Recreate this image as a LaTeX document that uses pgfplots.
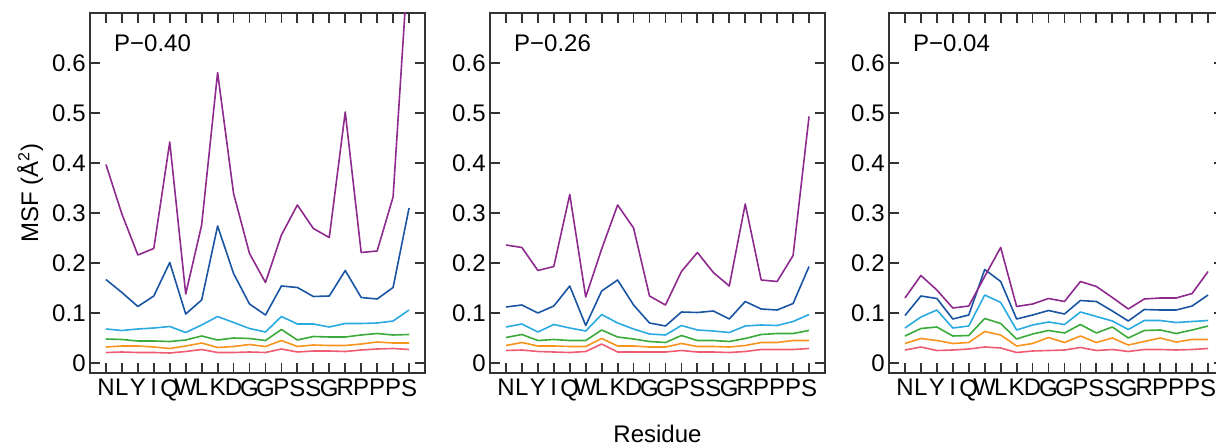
\documentclass[border=0pt]{standalone}
\usepackage{fontspec}
\setmainfont{Liberation Sans}
\usepackage{pgfplots}
\usepackage{pgfplotstable}
\pgfplotsset{compat=1.18}

\definecolor{cPu}{HTML}{8E2A8E}
\definecolor{cDb}{HTML}{1A55A3}
\definecolor{cLb}{HTML}{2BAAE2}
\definecolor{cGr}{HTML}{3AAA3A}
\definecolor{cOr}{HTML}{F7941E}
\definecolor{cPk}{HTML}{EF5B73}
\definecolor{frame}{HTML}{333333}

% x = residue index; columns: purple, dark blue, light blue, green, orange, pink
\pgfplotstableread{
x  pu    db    lb    gr    or    pk
1  0.397 0.167 0.068 0.048 0.032 0.021
2  0.298 0.141 0.065 0.047 0.034 0.022
3  0.216 0.113 0.068 0.044 0.034 0.021
4  0.229 0.134 0.070 0.044 0.032 0.021
5  0.442 0.201 0.073 0.043 0.029 0.020
6  0.138 0.098 0.061 0.046 0.034 0.023
7  0.276 0.126 0.076 0.054 0.040 0.027
8  0.581 0.274 0.093 0.046 0.031 0.021
9  0.339 0.179 0.081 0.050 0.033 0.021
10 0.219 0.118 0.069 0.049 0.037 0.022
11 0.161 0.096 0.062 0.045 0.033 0.021
12 0.256 0.154 0.093 0.067 0.045 0.028
13 0.316 0.151 0.078 0.046 0.033 0.022
14 0.269 0.133 0.078 0.053 0.036 0.024
15 0.251 0.134 0.072 0.052 0.035 0.024
16 0.502 0.185 0.079 0.052 0.035 0.023
17 0.221 0.131 0.079 0.056 0.038 0.026
18 0.224 0.128 0.080 0.059 0.042 0.028
19 0.332 0.151 0.084 0.056 0.040 0.029
20 0.830 0.310 0.106 0.057 0.040 0.027
}\tabA

\pgfplotstableread{
x  pu    db    lb    gr    or    pk
1  0.236 0.112 0.072 0.051 0.035 0.025
2  0.231 0.116 0.078 0.057 0.041 0.026
3  0.185 0.100 0.062 0.045 0.034 0.023
4  0.193 0.114 0.077 0.047 0.034 0.022
5  0.337 0.154 0.070 0.045 0.033 0.021
6  0.132 0.075 0.064 0.045 0.033 0.023
7  0.228 0.144 0.097 0.066 0.049 0.038
8  0.316 0.166 0.080 0.052 0.034 0.022
9  0.270 0.116 0.068 0.048 0.034 0.022
10 0.134 0.080 0.058 0.043 0.032 0.022
11 0.116 0.074 0.056 0.041 0.032 0.022
12 0.183 0.102 0.075 0.055 0.039 0.025
13 0.221 0.101 0.066 0.045 0.033 0.022
14 0.181 0.104 0.064 0.045 0.033 0.022
15 0.154 0.088 0.061 0.043 0.032 0.021
16 0.318 0.123 0.074 0.049 0.035 0.023
17 0.166 0.108 0.076 0.057 0.041 0.027
18 0.163 0.106 0.075 0.059 0.041 0.027
19 0.215 0.119 0.083 0.059 0.045 0.027
20 0.493 0.193 0.097 0.065 0.045 0.029
}\tabB

\pgfplotstableread{
x  pu    db    lb    gr    or    pk
1  0.130 0.095 0.070 0.054 0.039 0.026
2  0.175 0.134 0.092 0.069 0.049 0.032
3  0.146 0.129 0.106 0.072 0.045 0.025
4  0.110 0.088 0.070 0.054 0.039 0.026
5  0.114 0.096 0.074 0.055 0.041 0.028
6  0.173 0.187 0.136 0.089 0.063 0.032
7  0.231 0.163 0.121 0.079 0.056 0.030
8  0.113 0.088 0.066 0.048 0.034 0.021
9  0.118 0.096 0.076 0.058 0.039 0.024
10 0.129 0.105 0.082 0.065 0.051 0.025
11 0.123 0.098 0.077 0.060 0.041 0.026
12 0.163 0.125 0.102 0.077 0.054 0.031
13 0.153 0.123 0.093 0.060 0.041 0.025
14 0.131 0.104 0.084 0.072 0.050 0.027
15 0.108 0.084 0.067 0.050 0.036 0.023
16 0.128 0.107 0.085 0.065 0.043 0.027
17 0.130 0.106 0.085 0.066 0.050 0.027
18 0.130 0.106 0.081 0.059 0.042 0.026
19 0.139 0.114 0.083 0.066 0.047 0.027
20 0.183 0.136 0.085 0.074 0.047 0.029
}\tabC

\pgfplotsset{
  msf/.style={
    scale only axis, width=167.5pt, height=180pt,
    anchor=south west,
    xmin=0, xmax=21, ymin=-0.02, ymax=0.7,
    xtick={1,...,20},
    xticklabels={N,L,Y,I,Q,W,L,K,D,G,G,P,S,S,G,R,P,P,P,S},
    ytick={0,0.1,0.2,0.3,0.4,0.5,0.6},
    tick align=inside, major tick length=5pt,
    xtick pos=both, xticklabel pos=lower,
    ytick pos=both, yticklabel pos=left,
    axis line style={frame, line width=0.9pt},
    every tick/.style={frame, line width=0.9pt},
    font=\fontsize{12}{14}\selectfont,
    /pgf/number format/assume math mode=true,
    yticklabel style={inner sep=2pt},
    xticklabel style={inner sep=3pt},
    every axis plot/.append style={line width=0.8pt, line join=round},
  },
  panel/.style={after end axis/.code={
    \node[anchor=base west, font=\fontsize{12}{14}\selectfont]
      at (axis description cs:0.051,0.892) {#1};}},
}

\newcommand{\msfplots}[1]{%
  \addplot[cPk] table[x=x,y=pk] {#1};
  \addplot[cOr] table[x=x,y=or] {#1};
  \addplot[cGr] table[x=x,y=gr] {#1};
  \addplot[cLb] table[x=x,y=lb] {#1};
  \addplot[cDb] table[x=x,y=db] {#1};
  \addplot[cPu] table[x=x,y=pu] {#1};
}

\begin{document}
\begin{tikzpicture}
\useasboundingbox (0,0) rectangle (608pt,222.5pt);

\begin{axis}[msf, at={(45pt,36pt)}, panel={P−0.40},
  ylabel={MSF (Å\textsuperscript{2})},
  ylabel style={at={(axis description cs:-0.179,0.5)}, anchor=center}]
\msfplots{\tabA}
\end{axis}

\begin{axis}[msf, at={(245pt,36pt)}, panel={P−0.26},
  xlabel={Residue},
  xlabel style={at={(axis description cs:0.5,-0.194)}, anchor=base}]
\msfplots{\tabB}
\end{axis}

\begin{axis}[msf, at={(444.5pt,36pt)}, panel={P−0.04}]
\msfplots{\tabC}
\end{axis}
\end{tikzpicture}
\end{document}
